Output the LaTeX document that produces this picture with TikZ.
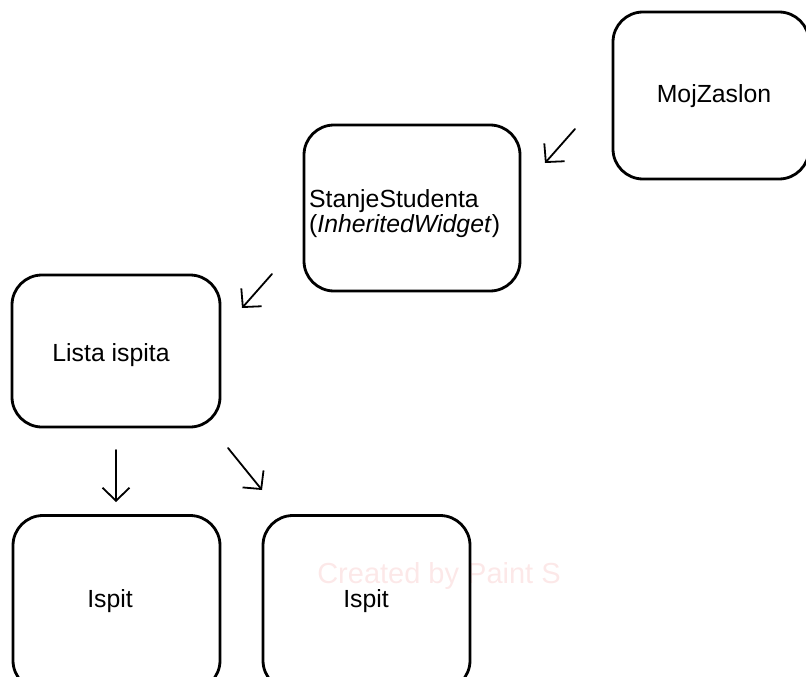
\documentclass[tikz,border=0pt]{standalone}
\usepackage{fontspec}
\setmainfont{Liberation Sans}
\usetikzlibrary{arrows.meta}
\definecolor{wmpink}{RGB}{252,232,232}
\tikzset{
  box/.style={draw=black, line width=2.8pt, rounded corners=30pt, inner sep=0pt},
  lbl/.style={font=\fontsize{24.8}{21.5}\selectfont, inner sep=0pt},
  arr/.style={draw=black, line width=1.8pt, line cap=round,
    -{Straight Barb[length=13pt,width=27pt,line width=1.8pt]}},
  wm/.style={font=\fontsize{29}{30}\selectfont, text=wmpink, inner sep=0pt}
}
\begin{document}
\begin{tikzpicture}[x=1pt,y=-1pt]
\useasboundingbox (0,0) rectangle (806,677);
\clip (0,0) rectangle (806,677);
\node[wm, anchor=base] (wmark) at (439,583) {Created by Paint S};
% boxes
\node[box, minimum width=196pt, minimum height=167pt] (moj) at (711,95.5) {};
\node[box, minimum width=216pt, minimum height=166pt] (stanje) at (412,208) {};
\node[box, minimum width=208pt, minimum height=152pt] (lista) at (116,351) {};
\node[box, minimum width=207pt, minimum height=175pt] (ispit1) at (116.5,603) {};
\node[box, minimum width=207pt, minimum height=175pt] (ispit2) at (366.5,603) {};
% labels
\node[lbl] (mojt) at (714,96) {MojZaslon};
\node[lbl, anchor=base west, align=left] (stanjet) at (309,232) {StanjeStudenta\\(\textit{InheritedWidget})};
\node[lbl] (listat) at (111,355) {Lista ispita};
\node[lbl] (ispit1t) at (110,601) {Ispit};
\node[lbl] (ispit2t) at (366,601) {Ispit};
% arrows
\coordinate (a1s) at (575,129);
\coordinate (a1e) at (545,163);
\coordinate (a2s) at (272,274);
\coordinate (a2e) at (242,308);
\coordinate (a3s) at (116,450);
\coordinate (a3e) at (116,502);
\coordinate (a4s) at (228,448);
\coordinate (a4e) at (262,490);
\draw[arr] (a1s) -- (a1e);
\draw[arr] (a2s) -- (a2e);
\draw[arr] (a3s) -- (a3e);
\draw[arr] (a4s) -- (a4e);
\end{tikzpicture}
\end{document}
